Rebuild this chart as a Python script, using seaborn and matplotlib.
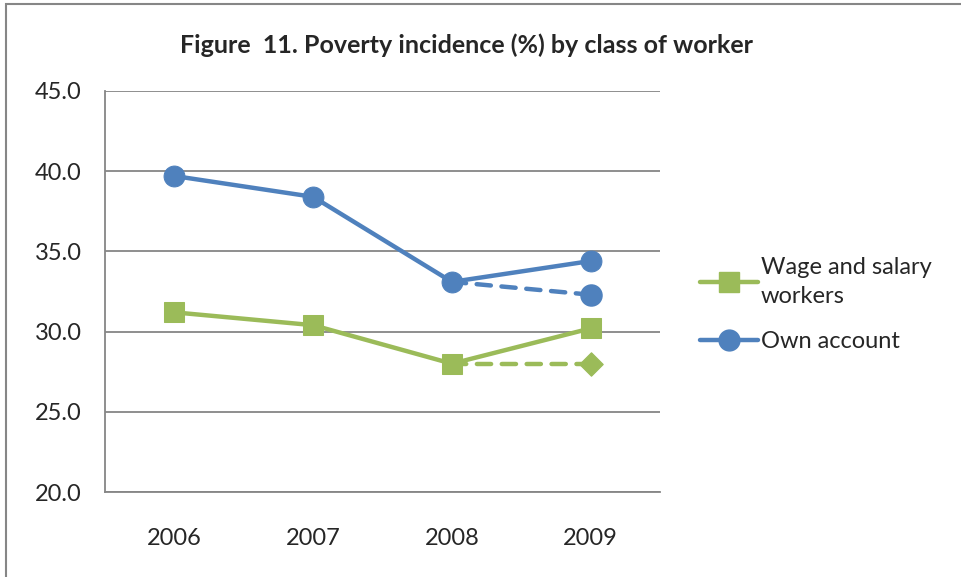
import pandas as pd
import matplotlib.pyplot as plt
import seaborn as sns
from matplotlib.lines import Line2D
from matplotlib.patches import Rectangle

# Chart data
years = ["2006", "2007", "2008", "2009"]
wage_salary = [31.2, 30.4, 28.0, 30.2]
own_account = [39.7, 38.4, 33.1, 34.4]
# dashed alternative 2008 -> 2009
dash_years = ["2008", "2009"]
wage_dash = [28.0, 28.0]
own_dash = [33.1, 32.3]
y_ticks = [20.0, 25.0, 30.0, 35.0, 40.0, 45.0]

blue = "#4F81BD"
green = "#9BBB59"
grid_gray = "#868686"

sns.set_style("white")
plt.rcParams['font.family'] = ['Lato', 'DejaVu Sans']

fig = plt.figure(figsize=(9.61, 5.77), dpi=100)
ax = fig.add_axes([0.1093, 0.1473, 0.5775, 0.695])

pos = {y: i for i, y in enumerate(years)}
df = pd.DataFrame({'x': [pos[y] for y in years], 'wage': wage_salary, 'own': own_account})
dd = pd.DataFrame({'x': [pos[y] for y in dash_years], 'wage': wage_dash, 'own': own_dash})

# dashed segments (behind)
sns.lineplot(data=dd, x='x', y='own', ax=ax, color=blue, lw=3.2,
             linestyle=(0, (3.2, 2.4)), dash_capstyle='round', marker=None, zorder=2)
sns.lineplot(data=dd, x='x', y='wage', ax=ax, color=green, lw=3.2,
             linestyle=(0, (3.2, 2.4)), dash_capstyle='round', marker=None, zorder=2)
# end markers of dashed segments
sns.scatterplot(data=dd.iloc[1:], x='x', y='own', ax=ax, color=blue, marker='o',
                s=225, edgecolor=blue, zorder=3)
sns.scatterplot(data=dd.iloc[1:], x='x', y='wage', ax=ax, color=green, marker='D',
                s=140, edgecolor=green, zorder=3)

# main series
sns.lineplot(data=df, x='x', y='wage', ax=ax, color=green, lw=3.2, marker='s',
             markersize=14, markeredgecolor=green, zorder=4)
sns.lineplot(data=df, x='x', y='own', ax=ax, color=blue, lw=3.2, marker='o',
             markersize=15, markeredgecolor=blue, zorder=4)

ax.set_xlim(-0.5, len(years) - 0.5)
ax.set_ylim(20, 45)
ax.set_yticks(y_ticks)
ax.set_yticklabels([f"{v:.1f}" for v in y_ticks], fontsize=17)
ax.set_xticks([i - 0.5 for i in range(len(years) + 1)])
ax.set_xticklabels([])
ax.set_xticks(range(len(years)), minor=True)
ax.set_xticklabels(years, minor=True, fontsize=17)
ax.tick_params(axis='x', which='minor', length=0, pad=26)
ax.tick_params(axis='x', which='major', length=7, color=grid_gray, direction='out')
ax.tick_params(axis='y', length=7, color=grid_gray, direction='out', pad=10)
ax.set_xlabel("")
ax.set_ylabel("")

ax.yaxis.grid(True, color=grid_gray, lw=1.3)
ax.set_axisbelow(True)
for s in ['top', 'right']:
    ax.spines[s].set_visible(False)
for s in ['left', 'bottom']:
    ax.spines[s].set_color(grid_gray)
    ax.spines[s].set_linewidth(1.3)

fig.text(0.485, 0.921, "Figure  11. Poverty incidence (%) by class of worker",
         ha='center', va='center', fontsize=18, fontweight='bold')

handles = [
    Line2D([], [], color=green, lw=3.2, marker='s', markersize=14, markeredgecolor=green),
    Line2D([], [], color=blue, lw=3.2, marker='o', markersize=15, markeredgecolor=blue),
]
leg = fig.legend(handles, ["Wage and salary\nworkers", "Own account"], loc='center left',
                 bbox_to_anchor=(0.706, 0.472), frameon=False, fontsize=17,
                 handlelength=2.45, handletextpad=0.15, labelspacing=1.05)
for t in leg.get_texts():
    t.set_linespacing(1.45)

fig.add_artist(Rectangle((0.006, -0.05), 1.2, 1.043, transform=fig.transFigure,
                         fill=False, edgecolor=grid_gray, lw=1.5))

fig.savefig("out.png", dpi=100)
